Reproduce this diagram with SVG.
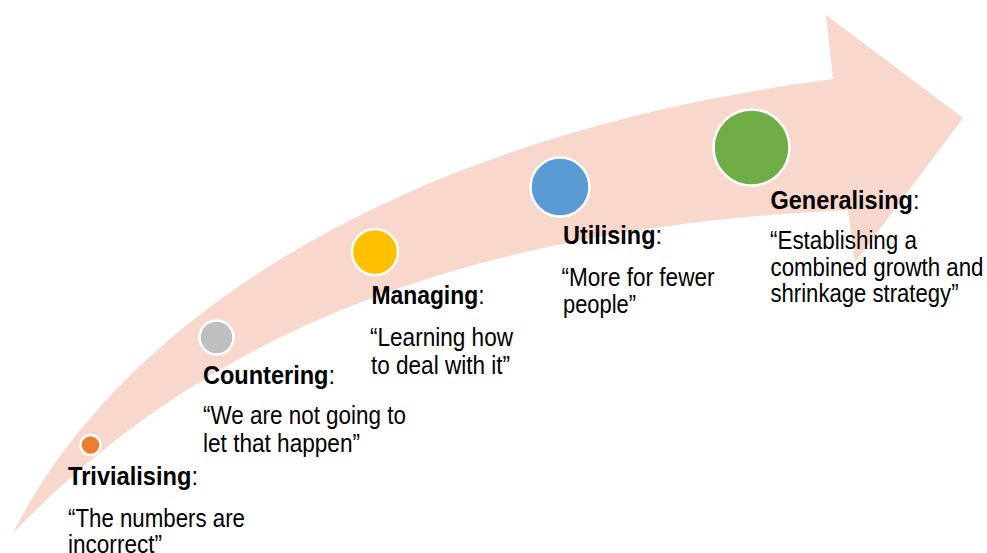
<svg xmlns="http://www.w3.org/2000/svg" width="987" height="553" viewBox="0 0 987 553">
<style>
.t{font-family:"Liberation Sans",Arial,sans-serif;font-size:25.5px;fill:#000}
.b{font-weight:bold}
.dot{stroke:#fff;stroke-width:2.5}
</style>
<rect width="987" height="553" fill="#fff"/>
<g id="arrow">
<path d="M 13,533 C 120,320 400,135 833,79 L 826,15 L 963,118 L 855,262 L 848,210 C 430,230 190,350 13,533 Z" fill="#F8D7CD"/>
</g>
<g id="trivialising">
<circle class="dot" cx="90.5" cy="445" r="10" fill="#ED7D31"/>
<text class="t" x="68" y="485" textLength="130" lengthAdjust="spacingAndGlyphs"><tspan class="b">Trivialising</tspan>:</text>
<text class="t" x="68" y="527" textLength="177" lengthAdjust="spacingAndGlyphs">“The numbers are</text>
<text class="t" x="68" y="553" textLength="94" lengthAdjust="spacingAndGlyphs">incorrect”</text>
</g>
<g id="countering">
<circle class="dot" cx="216.5" cy="337.5" r="17" fill="#BFBFBF"/>
<text class="t" x="203" y="383.5" textLength="132" lengthAdjust="spacingAndGlyphs"><tspan class="b">Countering</tspan>:</text>
<text class="t" x="203" y="423.5" textLength="203" lengthAdjust="spacingAndGlyphs">“We are not going to</text>
<text class="t" x="203" y="451.5" textLength="157" lengthAdjust="spacingAndGlyphs">let that happen”</text>
</g>
<g id="managing">
<circle class="dot" cx="375" cy="252" r="23" fill="#FFC000"/>
<text class="t" x="371.5" y="303.5" textLength="113" lengthAdjust="spacingAndGlyphs"><tspan class="b">Managing</tspan>:</text>
<text class="t" x="370" y="346" textLength="143" lengthAdjust="spacingAndGlyphs">“Learning how</text>
<text class="t" x="371" y="373.5" textLength="139" lengthAdjust="spacingAndGlyphs">to deal with it”</text>
</g>
<g id="utilising">
<circle class="dot" cx="560" cy="187" r="29.5" fill="#5B9BD5"/>
<text class="t" x="563" y="244" textLength="99" lengthAdjust="spacingAndGlyphs"><tspan class="b">Utilising</tspan>:</text>
<text class="t" x="561.5" y="286" textLength="153" lengthAdjust="spacingAndGlyphs">“More for fewer</text>
<text class="t" x="563" y="312.5" textLength="73" lengthAdjust="spacingAndGlyphs">people”</text>
</g>
<g id="generalising">
<circle class="dot" cx="751.5" cy="147.5" r="38" fill="#70AD47"/>
<text class="t" x="770.5" y="208.5" textLength="149" lengthAdjust="spacingAndGlyphs"><tspan class="b">Generalising</tspan>:</text>
<text class="t" x="770" y="248.5" textLength="147" lengthAdjust="spacingAndGlyphs">“Establishing a</text>
<text class="t" x="770.5" y="275.5" textLength="213" lengthAdjust="spacingAndGlyphs">combined growth and</text>
<text class="t" x="770.5" y="302" textLength="188" lengthAdjust="spacingAndGlyphs">shrinkage strategy”</text>
</g>
<g id="connectors"></g>
</svg>
